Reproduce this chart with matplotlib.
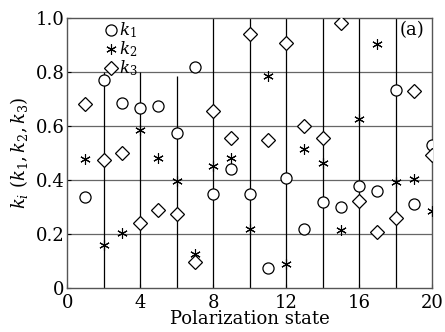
import matplotlib.pyplot as plt
import numpy as np
from matplotlib.ticker import FixedLocator, FuncFormatter

plt.rcParams['font.family'] = ['DejaVu Serif']
plt.rcParams['mathtext.fontset'] = 'dejavuserif'

states = np.arange(1, 21)
k1 = [0.338, 0.770, 0.684, 0.665, 0.674, 0.575, 0.820, 0.347, 0.439, 0.347,
      0.073, 0.406, 0.217, 0.320, 0.301, 0.378, 0.360, 0.733, 0.310, 0.531]
k2 = [0.477, 0.158, 0.202, 0.585, 0.480, 0.397, 0.125, 0.453, 0.480, 0.217,
      0.785, 0.089, 0.514, 0.462, 0.215, 0.625, 0.904, 0.394, 0.403, 0.286]
k3 = [0.681, 0.474, 0.501, 0.242, 0.289, 0.273, 0.098, 0.657, 0.557, 0.940,
      0.548, 0.906, 0.600, 0.557, 0.980, 0.323, 0.207, 0.258, 0.731, 0.493]

fig = plt.figure(figsize=(4.45, 3.32), dpi=100)
ax = fig.add_axes([0.151, 0.1325, 0.820, 0.8135])

# grid: horizontal lines full width, vertical lines cut by the legend area
for y in [0.2, 0.4, 0.6, 0.8]:
    ax.axhline(y, color='#666666', lw=0.9, zorder=1)
grid_x = [2, 4, 6, 8, 10, 12, 14, 16, 18]
grid_top = [0.8, 0.8, 0.785, 1, 1, 1, 1, 1, 1]
ax.vlines(grid_x, 0, grid_top, color='black', lw=0.9, zorder=1)

ax.plot(states, k1, 'o', mfc='white', mec='black', ms=8, mew=0.9, ls='none',
        label='$k_1$', zorder=3)
ax.plot(states, k2, marker=(6, 2, 0), color='black', ms=7.5, mew=0.8, ls='none',
        label='$k_2$', zorder=3)
ax.plot(states, k3, 'D', mfc='white', mec='black', ms=7, mew=0.9, ls='none',
        label='$k_3$', zorder=3)

ax.set_xlim(0, 20)
ax.set_ylim(0, 1.0)
ax.xaxis.set_major_locator(FixedLocator([0, 4, 8, 12, 16, 20]))
ax.yaxis.set_major_locator(FixedLocator([0, 0.2, 0.4, 0.6, 0.8, 1.0]))
ax.yaxis.set_major_formatter(FuncFormatter(lambda v, p: '0' if v == 0 else f'{v:.1f}'))
ax.tick_params(direction='in', length=3, labelsize=13, pad=2, width=0.8)
ax.tick_params(axis='x', pad=4)

for s in ax.spines.values():
    s.set_color('#555555')
    s.set_linewidth(1.0)

ax.set_xlabel('Polarization state', fontsize=13, labelpad=-1)
ax.set_ylabel('$k_i$ $(k_1, k_2, k_3)$', fontsize=13, labelpad=4)

ax.text(19.6, 0.955, '(a)', ha='right', va='center', fontsize=13)

leg = ax.legend(loc='upper left', bbox_to_anchor=(0.075, 1.035), frameon=False,
                fontsize=12, handlelength=0.6, handletextpad=0.15,
                labelspacing=-0.05, borderpad=0.2, handleheight=0.5)

fig.savefig('out.png', dpi=100)
